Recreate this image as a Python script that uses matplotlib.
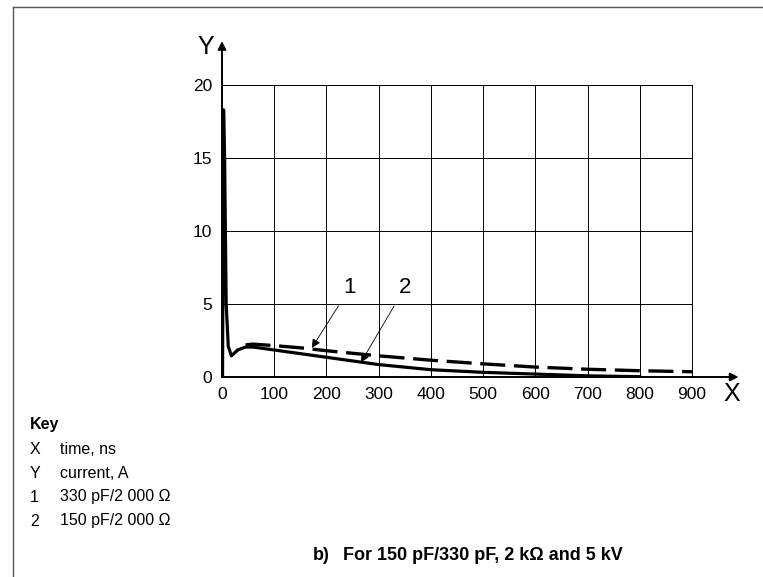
import matplotlib.pyplot as plt
from matplotlib.lines import Line2D

plt.rcParams['font.family'] = ['Liberation Sans', 'DejaVu Sans']

# curve 1: 330 pF / 2000 ohm (dashed)
t1 = [45, 60, 100, 150, 200, 300, 400, 500, 600, 700, 800, 900]
i1 = [2.2, 2.25, 2.15, 2.0, 1.8, 1.45, 1.15, 0.9, 0.68, 0.53, 0.43, 0.36]

# curve 2: 150 pF / 2000 ohm (solid, incl. initial spike)
t2 = [1, 3, 5, 8, 12, 18, 30, 45, 60, 100, 150, 200, 300, 400, 500, 600, 700, 800]
i2 = [0, 18.3, 15, 5, 2.1, 1.45, 1.85, 2.05, 2.05, 1.85, 1.6, 1.35, 0.85, 0.5, 0.32, 0.2, 0.08, 0.02]

x_ticks = [0, 100, 200, 300, 400, 500, 600, 700, 800, 900]
y_ticks = [0, 5, 10, 15, 20]

key_items = [('X', 'time, ns'), ('Y', 'current, A'),
             ('1', '330 pF/2 000 \u03a9'), ('2', '150 pF/2 000 \u03a9')]

W, H = 763, 577
fig = plt.figure(figsize=(W / 100, H / 100), dpi=100)
ax = fig.add_axes([222 / W, 1 - 377 / H, 470 / W, 292 / H])

ax.plot(t1, i1, color='black', lw=2.4, dashes=(7.5, 2.6))
ax.plot(t2, i2, color='black', lw=2.3, solid_joinstyle='round')

ax.set_xlim(0, 900)
ax.set_ylim(0, 20)
ax.set_xticks(x_ticks)
ax.set_yticks(y_ticks)
ax.tick_params(length=0, labelsize=12.5, pad=7)
ax.grid(True, color='black', lw=0.7)
for s in ['top', 'right']:
    ax.spines[s].set_linewidth(0.7)
for s in ['left', 'bottom']:
    ax.spines[s].set_linewidth(1.4)

# axis arrows
ax.annotate('', xy=(0, 1.16), xytext=(0, 0.99), xycoords='axes fraction',
            arrowprops=dict(arrowstyle='-|>', color='black', lw=1.4, mutation_scale=12),
            annotation_clip=False)
ax.annotate('', xy=(1.105, 0), xytext=(0.99, 0), xycoords='axes fraction',
            arrowprops=dict(arrowstyle='-|>', color='black', lw=1.4, mutation_scale=12),
            annotation_clip=False)
fig.text(206 / W, 1 - 47 / H, 'Y', fontsize=18, ha='center', va='center')
fig.text(732 / W, 1 - 394 / H, 'X', fontsize=18, ha='center', va='center')

# curve labels
ax.annotate('1', xy=(172, 2.0), xytext=(245, 6.1), fontsize=16, ha='center', va='center',
            arrowprops=dict(arrowstyle='-|>', color='black', lw=0.6, mutation_scale=13,
                            shrinkA=4, shrinkB=0))
ax.annotate('2', xy=(266, 1.0), xytext=(350, 6.1), fontsize=16, ha='center', va='center',
            arrowprops=dict(arrowstyle='-|>', color='black', lw=0.6, mutation_scale=13,
                            shrinkA=4, shrinkB=0))

# page frame
fig.add_artist(Line2D([13 / W, 1], [1 - 7 / H, 1 - 7 / H], color='#555555', lw=1))
fig.add_artist(Line2D([13 / W, 13 / W], [0, 1 - 7 / H], color='#555555', lw=1))

# key
fig.text(30 / W, 1 - 424 / H, 'Key', fontsize=11.5, fontweight='bold', va='center')
for k, (sym, desc) in enumerate(key_items):
    y = 1 - (449 + 24 * k) / H
    fig.text(30 / W, y, sym, fontsize=11.5, va='center')
    fig.text(60 / W, y, desc, fontsize=11.5, va='center')

fig.text(313 / W, 1 - 555 / H, 'b)', fontsize=13, fontweight='bold', va='center')
fig.text(343 / W, 1 - 555 / H, 'For 150 pF/330 pF, 2 k\u03a9 and 5 kV', fontsize=13,
         fontweight='bold', va='center')

fig.savefig('out.png', dpi=100)
